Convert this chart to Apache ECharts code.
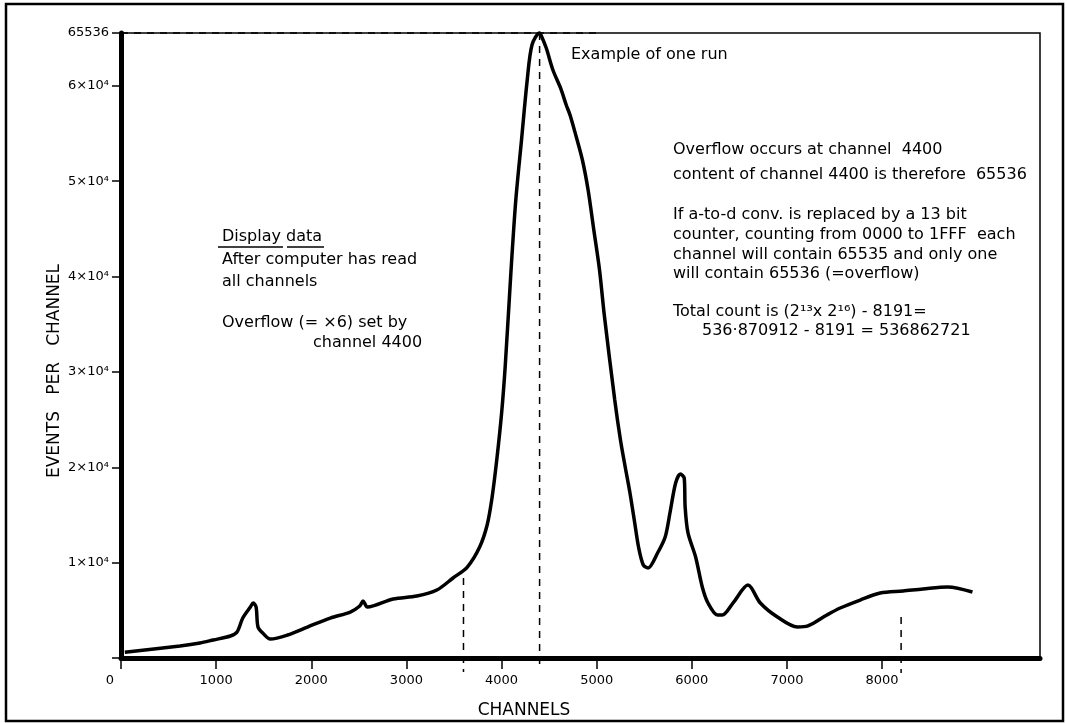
<!DOCTYPE html>
<html><head><meta charset="utf-8">
<script src="https://cdn.jsdelivr.net/npm/echarts@6/dist/echarts.min.js"></script>
<style>html,body{margin:0;padding:0;background:#fff}#c{width:1067px;height:723px}</style>
</head><body><div id="c"></div>
<script>
// ---- data ----
const channels = [40, 620, 830, 970, 1150, 1220, 1280, 1360, 1390, 1420, 1440, 1490, 1570, 1750, 1960, 2200, 2410, 2510, 2545, 2590, 2860, 3110, 3320, 3490, 3640, 3770, 3850, 3900, 3950, 4000, 4040, 4100, 4150, 4210, 4270, 4320, 4400, 4420, 4470, 4540, 4620, 4680, 4720, 4780, 4850, 4910, 4970, 5030, 5080, 5190, 5250, 5300, 5350, 5400, 5440, 5490, 5540, 5640, 5720, 5770, 5830, 5880, 5920, 5930, 5960, 6040, 6110, 6170, 6270, 6320, 6440, 6590, 6720, 6900, 7110, 7220, 7420, 7560, 7770, 7980, 8220, 8430, 8690, 8950];
const counts = [600, 1260, 1570, 1890, 2310, 2730, 4190, 5350, 5770, 5350, 3250, 2620, 1990, 2410, 3250, 4190, 4820, 5450, 5980, 5350, 6190, 6500, 7130, 8390, 9540, 11640, 14000, 16800, 20800, 25600, 30800, 40690, 48030, 54320, 60610, 64280, 65536, 65200, 63960, 61660, 59770, 57990, 56940, 54840, 52220, 49070, 44880, 40690, 35970, 27050, 22860, 20030, 17300, 14160, 11640, 9750, 9440, 11010, 12690, 15200, 18350, 19290, 18870, 15830, 13110, 10590, 7450, 5770, 4510, 4510, 5870, 7650, 5770, 4300, 3250, 3360, 4510, 5240, 6080, 6820, 7030, 7240, 7450, 6920];
const xTickValues = [0, 1000, 2000, 3000, 4000, 5000, 6000, 7000, 8000];
const xTickLabels = ['0', '1000', '2000', '3000', '4000', '5000', '6000', '7000', '8000'];
const yTickValues = [0, 10000, 20000, 30000, 40000, 50000, 60000, 65536];
const yTickLabels = ['', '1×10⁴', '2×10⁴', '3×10⁴', '4×10⁴', '5×10⁴', '6×10⁴', '65536'];
const overflowChannel = 4400;
const overflowCount = 65536;
const xMax = 9660;
// dashed guide lines: [channel, top value, bottom value]
const guideLines = [[3600, 8400, -1470], [4400, 65536, -1260], [8200, 4300, -1570]];
const overflowGuideEnd = 5040;

const FONT = '"DejaVu Sans", sans-serif';
const chart = echarts.init(document.getElementById('c'), null, {renderer: 'canvas'});

const dashStyle = {color: '#000', width: 1.5, type: [7, 6]};
const guideSeries = [
  {type: 'line', data: [[0, overflowCount], [overflowGuideEnd, overflowCount]], symbol: 'none', clip: false, silent: true, lineStyle: dashStyle, z: 1}
].concat(guideLines.map(g => ({
  type: 'line', data: [[g[0], g[1]], [g[0], g[2]]], symbol: 'none', clip: false, silent: true, lineStyle: dashStyle, z: 1
})));

function txt(x, y, s, opts) {
  return Object.assign({
    type: 'text', x: x, y: y, silent: true,
    style: {text: s, fill: '#000', font: '16px ' + FONT, textAlign: 'left', textVerticalAlign: 'middle'}
  }, opts || {});
}

const option = {
  animation: false,
  backgroundColor: '#fff',
  grid: {left: 121, right: 27, top: 33, bottom: 65, show: true, borderColor: '#000', borderWidth: 1.5, backgroundColor: 'transparent'},
  xAxis: {
    type: 'value', min: 0, max: xMax,
    axisLine: {lineStyle: {color: '#000', width: 5}},
    axisTick: {show: true, customValues: xTickValues, length: 11, lineStyle: {color: '#000', width: 1.5}},
    axisLabel: {
      customValues: xTickValues, margin: 16, color: '#000', fontFamily: 'DejaVu Sans', fontSize: 13,
      formatter: v => { const i = xTickValues.indexOf(v); const s = i >= 0 ? xTickLabels[i] : ''; return v === 0 ? '{z|' + s + '}' : s; },
      rich: {z: {padding: [0, 22, 0, 0], fontFamily: 'DejaVu Sans', fontSize: 13, color: '#000'}}
    },
    splitLine: {show: false}
  },
  yAxis: {
    type: 'value', min: 0, max: overflowCount,
    axisLine: {show: true, lineStyle: {color: '#000', width: 5}},
    axisTick: {show: true, customValues: yTickValues, length: 9, lineStyle: {color: '#000', width: 1.5}},
    axisLabel: {
      customValues: yTickValues, margin: 12, color: '#000', fontFamily: 'DejaVu Sans', fontSize: 13,
      formatter: v => { const i = yTickValues.indexOf(v); return i >= 0 ? yTickLabels[i] : ''; }
    },
    splitLine: {show: false}
  },
  series: [{
    type: 'line',
    data: channels.map((c, i) => [c, counts[i]]),
    smooth: 0.3,
    symbol: 'none',
    clip: false,
    z: 3,
    lineStyle: {color: '#000', width: 3.5}
  }].concat(guideSeries),
  graphic: [
    {type: 'rect', silent: true, shape: {x: 6, y: 4, width: 1057, height: 717}, style: {fill: 'none', stroke: '#000', lineWidth: 2.5}},
    txt(55, 371, 'EVENTS   PER   CHANNEL', {rotation: Math.PI / 2, style: {text: 'EVENTS   PER   CHANNEL', fill: '#000', font: '17px ' + FONT, textAlign: 'center', textVerticalAlign: 'middle'}}),
    txt(524, 711, 'CHANNELS', {style: {text: 'CHANNELS', fill: '#000', font: '17px ' + FONT, textAlign: 'center', textVerticalAlign: 'middle'}}),
    txt(571, 55, 'Example of one run'),
    txt(222, 237, 'Display data'),
    {type: 'line', silent: true, shape: {x1: 218, y1: 247, x2: 283, y2: 247}, style: {stroke: '#000', lineWidth: 1.5}},
    {type: 'line', silent: true, shape: {x1: 287, y1: 247, x2: 324, y2: 247}, style: {stroke: '#000', lineWidth: 1.5}},
    txt(222, 260, 'After computer has read'),
    txt(222, 282, 'all channels'),
    txt(222, 323, 'Overflow (= ×6) set by'),
    txt(313, 343, 'channel 4400'),
    txt(673, 150, 'Overflow occurs at channel  4400'),
    txt(673, 175, 'content of channel 4400 is therefore  65536'),
    txt(673, 215, 'If a-to-d conv. is replaced by a 13 bit'),
    txt(673, 235, 'counter, counting from 0000 to 1FFF  each'),
    txt(673, 255, 'channel will contain 65535 and only one'),
    txt(673, 274, 'will contain 65536 (=overflow)'),
    txt(673, 312, 'Total count is (2¹³x 2¹⁶) - 8191='),
    txt(702, 331, '536·870912 - 8191 = 536862721')
  ]
};
chart.setOption(option);
</script>
</body></html>
